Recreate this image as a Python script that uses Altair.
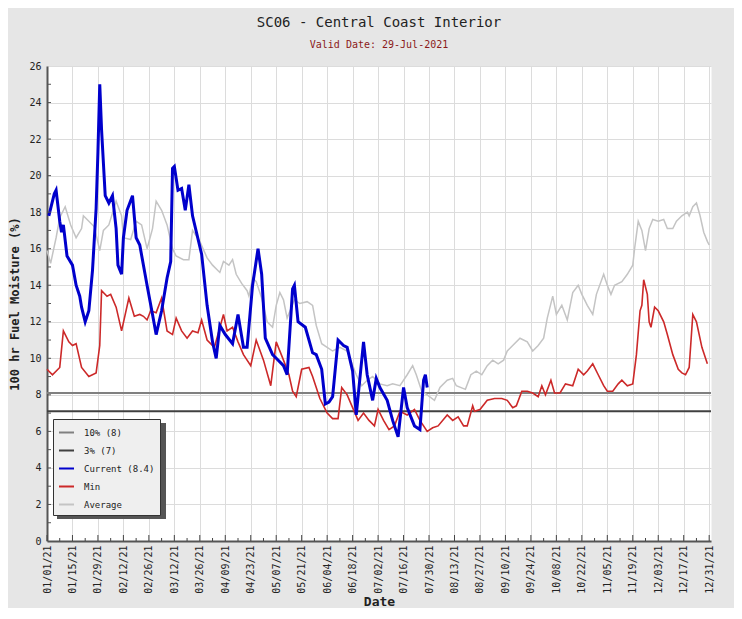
import altair as alt
import pandas as pd

START = pd.Timestamp("2021-01-01")

# ---- data (day offset from 01/01/21, value %) ----
cur_days = [1, 4, 5, 7, 8, 9, 11, 14, 16, 18, 19, 21, 23, 25, 27, 28, 29, 30, 32, 34, 36, 38, 39, 41, 42, 44,
            47, 49, 51, 55, 58, 60, 63, 66, 68, 69, 70, 72, 74, 76, 78, 80, 85, 88, 91, 93, 95, 98, 102,
            105, 108, 110, 113, 116, 118, 120, 124, 126, 130, 132, 135, 136, 138, 142, 146, 148, 151, 153,
            155, 157, 160, 163, 165, 168, 170, 174, 176, 179, 181, 183, 187, 190, 193, 196, 198, 202, 205,
            207, 208, 209]
cur_vals = [17.8, 19.0, 19.2, 17.5, 16.9, 17.3, 15.6, 15.1, 14.0, 13.4, 12.8, 12.0, 12.6, 14.8, 18.2, 21.3,
            25.0, 22.5, 18.9, 18.5, 18.9, 17.1, 15.1, 14.6, 16.6, 18.1, 18.9, 16.6, 16.2, 14.0, 12.4, 11.3,
            12.6, 14.4, 15.3, 20.4, 20.5, 19.2, 19.3, 18.1, 19.5, 17.8, 15.7, 12.9, 10.9, 10.0, 11.8, 11.3,
            10.8, 12.4, 10.6, 10.6, 14.0, 16.0, 14.6, 11.1, 10.2, 10.0, 9.6, 9.1, 13.8, 14.0, 12.0, 11.7,
            10.3, 10.2, 9.4, 7.5, 7.6, 7.9, 11.0, 10.7, 10.6, 9.3, 6.9, 10.9, 9.1, 7.7, 8.9, 8.4, 7.7, 6.6,
            5.7, 8.4, 7.3, 6.3, 6.1, 8.8, 9.1, 8.4]

min_days = [0, 3, 7, 9, 12, 14, 16, 19, 23, 27, 29, 30, 33, 35, 38, 41, 45, 48, 51, 53, 55, 57, 60, 63, 66,
            69, 71, 74, 77, 80, 83, 85, 88, 92, 97, 99, 102, 105, 108, 112, 115, 119, 123, 126, 130, 133,
            135, 137, 140, 144, 146, 150, 154, 157, 160, 162, 165, 168, 171, 174, 177, 180, 182, 185, 188,
            191, 194, 198, 202, 205, 209, 212, 215, 220, 223, 226, 229, 231, 234, 235, 238, 242, 246, 250,
            253, 256, 258, 261, 264, 267, 270, 272, 274, 277, 279, 282, 285, 289, 292, 295, 297, 300, 303,
            306, 308, 311, 314, 316, 319, 322, 324, 326, 327, 328, 330, 331, 332, 334, 336, 339, 341, 344,
            347, 349, 351, 353, 355, 357, 360, 363]
min_vals = [9.4, 9.1, 9.5, 11.5, 10.9, 10.7, 10.8, 9.5, 9.0, 9.2, 10.7, 13.7, 13.4, 13.5, 12.8, 11.5, 13.3,
            12.3, 12.4, 12.3, 12.1, 12.6, 12.5, 13.3, 11.5, 11.3, 12.2, 11.5, 11.1, 11.5, 11.4, 12.1, 11.0,
            10.6, 12.4, 11.5, 11.7, 10.9, 10.2, 9.6, 11.0, 9.9, 8.5, 10.9, 9.9, 9.1, 8.2, 7.9, 9.4, 9.5,
            9.0, 7.8, 7.0, 6.7, 6.7, 8.4, 8.0, 7.3, 6.6, 7.0, 6.6, 6.3, 7.2, 6.6, 6.1, 6.3, 7.1, 6.9, 7.2,
            6.6, 6.0, 6.2, 6.3, 6.9, 6.6, 6.8, 6.3, 6.3, 7.4, 7.1, 7.2, 7.7, 7.8, 7.8, 7.7, 7.3, 7.4, 8.2,
            8.2, 8.1, 7.9, 8.5, 8.0, 8.8, 8.1, 8.1, 8.6, 8.5, 9.4, 9.1, 9.3, 9.7, 9.1, 8.5, 8.2, 8.2, 8.6,
            8.8, 8.5, 8.6, 10.2, 12.6, 12.9, 14.3, 13.5, 12.0, 11.7, 12.8, 12.6, 12.0, 11.3, 10.2, 9.4, 9.2,
            9.1, 9.5, 12.4, 12.0, 10.6, 9.7]

avg_days = [0, 2, 5, 7, 10, 13, 16, 19, 20, 23, 26, 29, 31, 34, 38, 41, 42, 46, 49, 52, 55, 58, 60, 63, 66,
            69, 71, 75, 78, 80, 84, 88, 91, 95, 97, 100, 102, 104, 107, 110, 111, 113, 115, 118, 121, 124,
            126, 128, 130, 132, 136, 139, 143, 146, 148, 151, 154, 157, 161, 165, 170, 173, 176, 179, 183,
            187, 190, 194, 198, 201, 203, 206, 209, 213, 216, 220, 223, 225, 230, 233, 236, 239, 242, 245,
            248, 251, 253, 256, 260, 264, 267, 270, 273, 275, 278, 280, 283, 286, 289, 292, 294, 296, 297,
            300, 302, 306, 308, 310, 312, 316, 319, 322, 323, 325, 327, 329, 331, 333, 336, 339, 341, 344,
            346, 349, 352, 353, 355, 357, 359, 361, 363, 364]
avg_vals = [15.9, 15.2, 16.6, 17.7, 18.3, 17.3, 16.6, 17.1, 17.8, 17.5, 17.2, 15.9, 17.0, 17.3, 18.6, 17.8,
            16.6, 16.5, 17.5, 17.3, 16.0, 17.1, 18.6, 18.1, 17.3, 16.0, 15.6, 15.4, 15.4, 17.0, 16.4, 15.5,
            15.1, 14.7, 15.3, 15.1, 15.4, 14.6, 14.1, 13.7, 13.4, 14.4, 14.2, 13.3, 12.0, 11.7, 12.9, 13.6,
            13.2, 12.2, 13.2, 13.0, 13.1, 12.9, 11.8, 10.8, 10.6, 10.4, 10.6, 10.4, 9.1, 8.5, 8.8, 9.0, 8.6,
            8.5, 8.6, 8.5, 9.1, 9.6, 9.1, 8.2, 8.0, 7.7, 8.4, 8.8, 8.9, 8.5, 8.3, 9.1, 9.3, 9.1, 9.6, 9.9,
            9.7, 9.9, 10.4, 10.7, 11.1, 10.9, 10.4, 10.7, 11.1, 12.2, 13.4, 12.4, 12.9, 12.1, 13.6, 14.0,
            13.5, 13.1, 12.9, 12.4, 13.5, 14.6, 14.0, 13.5, 14.0, 14.2, 14.6, 15.1, 16.0, 17.5, 17.0, 15.9,
            17.1, 17.6, 17.5, 17.6, 17.1, 17.1, 17.5, 17.8, 18.0, 17.8, 18.3, 18.5, 17.8, 16.9, 16.4, 16.2]

ref_names = ["10% (8)", "3% (7)"]
ref_vals = [8.1, 7.1]

series_order = ["10% (8)", "3% (7)", "Current (8.4)", "Min", "Average"]
series_colors = ["#808080", "#404040", "#0000cc", "#cc2929", "#c4c4c4"]


def to_dates(days):
    return [START + pd.Timedelta(days=d) for d in days]


cur_df = pd.DataFrame({"date": to_dates(cur_days), "value": cur_vals, "series": "Current (8.4)"})
min_df = pd.DataFrame({"date": to_dates(min_days), "value": min_vals, "series": "Min"})
avg_df = pd.DataFrame({"date": to_dates(avg_days), "value": avg_vals, "series": "Average"})
ref_df = pd.DataFrame({"value": ref_vals, "series": ref_names})

major_dates = [START + pd.Timedelta(days=d) for d in range(0, 365, 14)]
minor_dates = [START + pd.Timedelta(days=d) for d in range(7, 365, 14)]
major_df = pd.DataFrame({"date": major_dates})
minor_df = pd.DataFrame({"date": minor_dates})
ytick_df = pd.DataFrame({"v": list(range(1, 26))})

MONO = "DejaVu Sans Mono"
W, H = 664, 475

x_scale = alt.Scale(domain=[alt.DateTime(year=2021, month=1, date=1),
                            alt.DateTime(year=2022, month=1, date=1)], nice=False)
y_scale = alt.Scale(domain=[0, 26], nice=False)
tick_values = [alt.DateTime(year=d.year, month=d.month, date=d.day) for d in major_dates]

color = alt.Color(
    "series:N",
    scale=alt.Scale(domain=series_order, range=series_colors),
    legend=alt.Legend(
        title=None, orient="none", legendX=6, legendY=353,
        fillColor="#efefef", strokeColor="#333333", padding=5,
        symbolType="stroke", symbolStrokeWidth=2, symbolSize=225,
        labelFont=MONO, labelFontSize=9, labelColor="#222222",
        rowPadding=4, labelOffset=9,
    ),
)

x_enc = alt.X("date:T", scale=x_scale, title="Date",
              axis=alt.Axis(values=tick_values, tickCount=100, format="%m/%d/%y", labelAngle=-90,
                            labelOverlap=False, labelBound=False, labelFlush=False,
                            ticks=False, tickSize=0, labelPadding=4, titlePadding=2,
                            titleFontSize=13))
y_enc = alt.Y("value:Q", scale=y_scale, title="100 hr Fuel Moisture (%)",
              axis=alt.Axis(values=list(range(0, 27, 2)), tickCount=100, format="d",
                            ticks=False, tickSize=0,
                            labelOverlap=False, labelFlush=False,
                            labelPadding=6, titlePadding=7, titleFontSize=12))

base_x = alt.X("date:T", scale=x_scale)

avg_line = alt.Chart(avg_df).mark_line(strokeWidth=1.5).encode(x=x_enc, y=y_enc, color=color)
min_line = alt.Chart(min_df).mark_line(strokeWidth=1.6).encode(x=base_x, y=alt.Y("value:Q", scale=y_scale), color=color)
cur_line = alt.Chart(cur_df).mark_line(strokeWidth=3).encode(x=base_x, y=alt.Y("value:Q", scale=y_scale), color=color)
ref_rules = alt.Chart(ref_df).mark_rule(strokeWidth=2).encode(y=alt.Y("value:Q", scale=y_scale), color=color)

major_ticks = alt.Chart(major_df).mark_rule(color="#444444", strokeWidth=1).encode(
    x=base_x, y=alt.value(H), y2=alt.value(H - 6))
minor_ticks = alt.Chart(minor_df).mark_rule(color="#444444", strokeWidth=1).encode(
    x=base_x, y=alt.value(H), y2=alt.value(H - 3))
y_ticks = alt.Chart(ytick_df).mark_rule(color="#555555", strokeWidth=1).encode(
    y=alt.Y("v:Q", scale=y_scale), x=alt.value(0), x2=alt.value(4))

shadow = alt.Chart(pd.DataFrame({"a": [0]})).mark_rect(color="#555555").encode(
    x=alt.value(10), x2=alt.value(119), y=alt.value(357), y2=alt.value(453))

chart = alt.layer(
    ref_rules, avg_line, min_line, cur_line, major_ticks, minor_ticks, y_ticks, shadow
).properties(
    width=W, height=H,
    padding={"left": 39, "top": 58, "right": 23, "bottom": 67},
    autosize=alt.AutoSizeParams(type="none"),
    background="#e6e6e6",
    title=alt.TitleParams(
        text="SC06 - Central Coast Interior",
        subtitle="Valid Date: 29-Jul-2021",
        font=MONO, fontSize=14, fontWeight="normal", color="#222222",
        subtitleFont=MONO, subtitleFontSize=10, subtitleColor="#8b1a1a",
        anchor="middle", offset=11, subtitlePadding=10,
    ),
).configure_view(
    fill="white", stroke="transparent"
).configure_axis(
    labelFont=MONO, labelFontSize=10, labelColor="#222222",
    titleFont=MONO, titleFontWeight="bold", titleColor="#222222",
    gridColor="#dcdcdc", gridWidth=1,
    domainColor="#555555", domainWidth=2,
)

chart.save("out.html", embed_options={"renderer": "svg", "actions": False})
